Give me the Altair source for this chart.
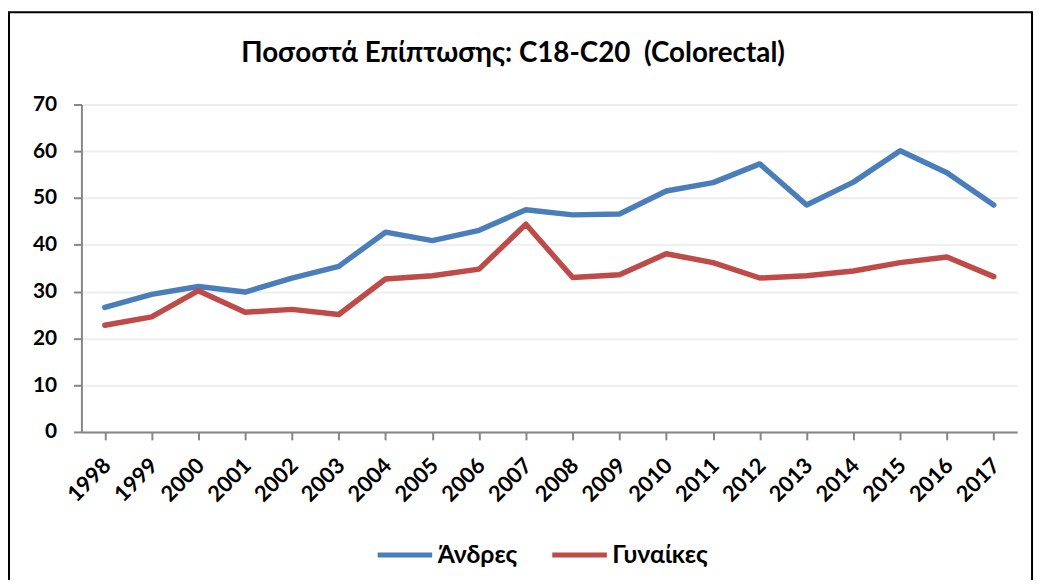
import altair as alt
import pandas as pd

years = [str(y) for y in range(1998, 2018)]
men = [26.6, 29.4, 31.1, 29.9, 32.9, 35.4, 42.7, 40.9, 43.1, 47.5,
       46.4, 46.6, 51.5, 53.3, 57.3, 48.5, 53.4, 60.1, 55.4, 48.5]
women = [22.8, 24.6, 30.2, 25.6, 26.2, 25.1, 32.7, 33.4, 34.8, 44.4,
         33.0, 33.6, 38.1, 36.2, 32.9, 33.4, 34.4, 36.2, 37.4, 33.2]
series = ["Άνδρες", "Γυναίκες"]
colors = ["#4A7EBB", "#BE4B48"]
y_ticks = [0, 10, 20, 30, 40, 50, 60, 70]

df = pd.DataFrame({
    "year": years * 2,
    "value": men + women,
    "series": [series[0]] * len(years) + [series[1]] * len(years),
})

FONT = "Lato"

lines = alt.Chart(df).mark_line(strokeWidth=5.5, strokeCap="round", strokeJoin="round").encode(
    x=alt.X("year:O", sort=years, title=None,
            scale=alt.Scale(paddingInner=0, paddingOuter=0),
            axis=alt.Axis(bandPosition=0, labelAngle=-45, labelAlign="right",
                          labelBaseline="middle", labelOffset=2, labelPadding=22,
                          tickSize=8, tickColor="#868686", tickWidth=2,
                          domainColor="#868686", domainWidth=2,
                          labelFont=FONT, labelFontWeight="bold", labelFontSize=22,
                          labelColor="black", grid=False)),
    y=alt.Y("value:Q", title=None,
            scale=alt.Scale(domain=[0, 70], nice=False, zero=True),
            axis=alt.Axis(values=y_ticks, tickSize=8, tickColor="#868686", tickWidth=2,
                          domainColor="#868686", domainWidth=2,
                          labelFont=FONT, labelFontWeight="bold", labelFontSize=21,
                          labelColor="black", labelPadding=17,
                          grid=True, gridColor="#EDEDED", gridWidth=2)),
    color=alt.Color("series:N", sort=series,
                    scale=alt.Scale(domain=series, range=colors),
                    legend=alt.Legend(title=None, orient="none", direction="horizontal",
                                      legendX=296, legendY=424,
                                      symbolType="stroke", symbolSize=3025,
                                      symbolStrokeWidth=5, labelFont=FONT,
                                      labelFontWeight="bold", labelFontSize=25,
                                      labelColor="black", labelOffset=3,
                                      columnPadding=24)),
)

border = alt.Chart(pd.DataFrame({"a": [0]})).mark_rect(
    fill=None, stroke="black", strokeWidth=2, clip=False
).encode(x=alt.value(-73), x2=alt.value(958), y=alt.value(-93), y2=alt.value(497))

chart = alt.layer(border, lines).properties(
    width=943, height=330,
    title=alt.Title("Ποσοστά Επίπτωσης: C18-C20 \u00a0(Colorectal)", anchor="start",
                    frame="group", dx=161, dy=108, offset=29, baseline="alphabetic",
                    font=FONT, fontSize=28, fontWeight="bold", color="black"),
    autosize=alt.AutoSizeParams(type="none"),
    padding={"left": 74, "top": 95, "right": 19, "bottom": 147},
).configure_view(stroke=None)

chart.save("out.html", embed_options={"renderer": "svg", "actions": False})
